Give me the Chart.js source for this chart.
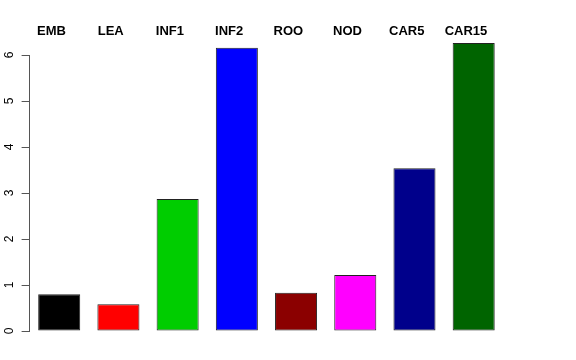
<!DOCTYPE html>
<html>
<head>
<meta charset="utf-8">
<script src="https://cdn.jsdelivr.net/npm/chart.js@4.4.1/dist/chart.umd.min.js"></script>
<style>
  html,body{margin:0;padding:0;background:#fff;}
  #wrap{width:576px;height:360px;position:relative;}
</style>
</head>
<body>
<div id="wrap"><canvas id="c"></canvas></div>
<script>
const categories = ['EMB','LEA','INF1','INF2','ROO','NOD','CAR5','CAR15'];
const values = [0.80, 0.58, 2.87, 6.16, 0.83, 1.22, 3.54, 6.26];
const barColors = ['#000000','#ff0000','#00cd00','#0000ff','#8b0000','#ff00ff','#00008b','#006400'];
const yTicks = [0, 1, 2, 3, 4, 5, 6];

// R-style rotated y tick labels
const rAxisLabels = {
  id:'rAxisLabels',
  afterDraw(chart){
    const y = chart.scales.y, ctx = chart.ctx;
    ctx.save();
    ctx.fillStyle = '#000';
    ctx.font = '12px "Liberation Sans", Arial, sans-serif';
    ctx.textAlign = 'center';
    ctx.textBaseline = 'alphabetic';
    yTicks.forEach(v => {
      const py = y.getPixelForValue(v);
      ctx.save();
      ctx.translate(13, py);
      ctx.rotate(-Math.PI/2);
      ctx.fillText(String(v), 0, 0);
      ctx.restore();
    });
    ctx.restore();
  }
};

new Chart(document.getElementById('c'), {
  type:'bar',
  data:{ labels:categories, datasets:[{
    data:values, backgroundColor:barColors, borderColor:'#222222', borderWidth:1, borderSkipped:false,
    barPercentage:0.71, categoryPercentage:1, clip:false
  }] },
  options:{
    responsive:true, maintainAspectRatio:false, animation:false,
    layout:{ padding:{ left:0, right:72.7, top:0, bottom:29 } },
    plugins:{ legend:{display:false}, tooltip:{enabled:false} },
    scales:{
      x:{
        position:'top', offset:true,
        grid:{display:false, drawTicks:false}, border:{display:false},
        ticks:{ color:'#000', font:{family:'"Liberation Sans", Arial, sans-serif', size:13, weight:'bold'}, padding:16, labelOffset:-7.7, maxRotation:0, autoSkip:false },
        afterFit(s){ s.height = 55; }
      },
      y:{
        min:0, max:6,
        grid:{display:true, drawOnChartArea:false, drawTicks:true, tickLength:8, color:'#555', lineWidth:1},
        border:{display:true, color:'#555', width:1},
        ticks:{ display:false, stepSize:1 },
        afterFit(s){ s.width = 29.6; }
      }
    }
  },
  plugins:[rAxisLabels]
});
</script>
</body>
</html>
